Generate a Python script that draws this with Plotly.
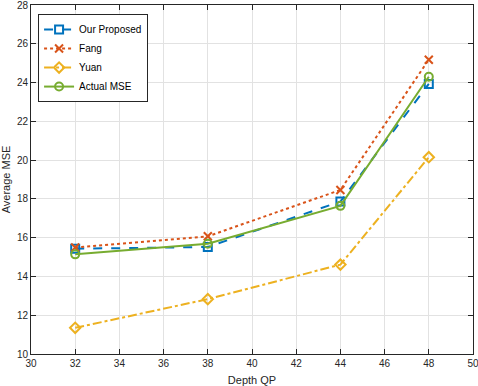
import plotly.graph_objects as go

# 数据
qp = [32, 38, 44, 48]
our_proposed = [15.43, 15.52, 17.86, 23.93]
fang = [15.49, 16.07, 18.46, 25.18]
yuan = [11.35, 12.83, 14.61, 20.15]
actual_mse = [15.14, 15.69, 17.64, 24.30]

x_ticks = list(range(30, 51, 2))
y_ticks = list(range(10, 29, 2))

series = [
    ('Our Proposed', our_proposed, '#0072BD', 'dash', 'square-open'),
    ('Fang', fang, '#D95319', 'dot', 'x-thin-open'),
    ('Yuan', yuan, '#EDB120', 'dashdot', 'diamond-open'),
    ('Actual MSE', actual_mse, '#77AC30', 'solid', 'circle-open'),
]

fig = go.Figure()
for name, vals, color, dash, symbol in series:
    fig.add_trace(go.Scatter(
        x=qp, y=vals, name=name, mode='lines+markers',
        line=dict(color=color, width=2, dash=dash),
        marker=dict(symbol=symbol, size=8, color=color,
                    line=dict(color=color, width=2)),
    ))

axis_common = dict(
    showline=True, linecolor='#262626', linewidth=1, mirror='ticks',
    ticks='inside', ticklen=5, tickcolor='#262626',
    showgrid=True, gridcolor='#e2e2e2', gridwidth=1,
    zeroline=False, tickfont=dict(size=10, color='#262626'),
    automargin=False, ticklabeloverflow='allow',
)

fig.update_layout(
    width=478, height=386,
    margin=dict(l=31, r=5, t=5, b=32),
    paper_bgcolor='white', plot_bgcolor='white',
    font=dict(family='Liberation Sans, Arial, sans-serif', size=10, color='#262626'),
    xaxis=dict(range=[30, 50], tickvals=x_ticks,
               title=dict(text='Depth QP', font=dict(size=11)),
               **axis_common),
    yaxis=dict(range=[10, 28], tickvals=y_ticks,
               title=dict(text='Average MSE', font=dict(size=11)),
               **axis_common),
    legend=dict(x=0.016, y=0.974, xanchor='left', yanchor='top',
                bgcolor='white', bordercolor='#262626', borderwidth=1,
                font=dict(size=10, color='#000000'),
                tracegroupgap=0, itemwidth=30),
    showlegend=True,
)

# 去掉页面默认边距
fig.write_html('out.html', config={'displayModeBar': False},
               post_script="document.body.style.margin='0';")
